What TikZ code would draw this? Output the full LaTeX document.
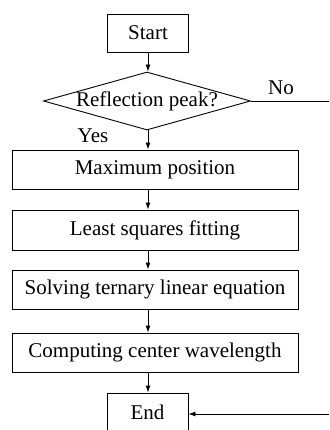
\documentclass[tikz,border=0pt]{standalone}
\usepackage{fontspec}
\setmainfont{Liberation Serif}
\usetikzlibrary{shapes.geometric,arrows.meta}
\begin{document}
\begin{tikzpicture}[x=1pt,y=-1pt,
  every node/.style={font=\fontsize{21}{25}\selectfont},
  box/.style={draw,line width=0.9pt,inner sep=0pt,minimum height=39pt},
  arr/.style={line width=0.9pt,-{Latex[length=7pt,width=5pt]}},
  ln/.style={line width=0.9pt}]
\useasboundingbox (0,0) rectangle (329,430);
\clip (0,0) rectangle (329,430);
\node[box,minimum width=81pt,minimum height=38pt] (start) at (148,33) {Start};
\node[draw,line width=0.9pt,diamond,inner sep=0pt,minimum width=207pt,minimum height=58pt] (dec) at (147,101) {\makebox[0pt]{Reflection peak?}};
\node[box,minimum width=286pt] (maxp) at (155,169.5) {Maximum position};
\node[box,minimum width=286pt,minimum height=40pt] (lsq) at (155,230) {Least squares fitting};
\node[box,minimum width=286pt] (solve) at (155,289.5) {Solving ternary linear equation};
\node[box,minimum width=286pt] (comp) at (155,352.5) {Computing center wavelength};
\node[box,minimum width=81pt,minimum height=38pt] (end) at (147.5,412) {End};
\node (no) at (281,88) {No};
\node (yes) at (93,136) {Yes};
\coordinate (nr) at (329,101);
\coordinate (er) at (329,414);
\draw[arr] (start.south) -- (start.south |- dec.north);
\draw[arr] (start.south |- dec.south) -- (start.south |- maxp.north);
\draw[arr] (start.south |- maxp.south) -- (start.south |- lsq.north);
\draw[arr] (start.south |- lsq.south) -- (start.south |- solve.north);
\draw[arr] (start.south |- solve.south) -- (start.south |- comp.north);
\draw[arr] (start.south |- comp.south) -- (start.south |- end.north);
\draw[ln] (dec.east) -- (nr);
\draw[arr] (er) -- (er -| end.east);
\end{tikzpicture}
\end{document}
